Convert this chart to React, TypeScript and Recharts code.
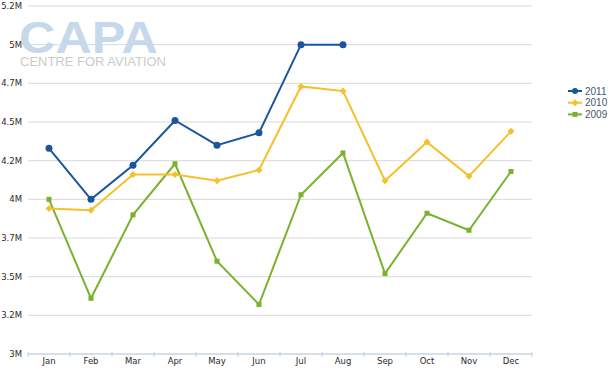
import React from 'react';
import { LineChart, Line, XAxis, YAxis, CartesianGrid } from 'recharts';

const months = ['Jan', 'Feb', 'Mar', 'Apr', 'May', 'Jun', 'Jul', 'Aug', 'Sep', 'Oct', 'Nov', 'Dec'];
// values in millions
const y2011 = [4.33, 4.0, 4.22, 4.51, 4.35, 4.43, 5.0, 5.0, null, null, null, null];
const y2010 = [3.94, 3.93, 4.16, 4.16, 4.12, 4.19, 4.73, 4.7, 4.12, 4.37, 4.15, 4.44];
const y2009 = [4.0, 3.36, 3.9, 4.23, 3.6, 3.32, 4.03, 4.3, 3.52, 3.91, 3.8, 4.18];
const yTicks = [3, 3.25, 3.5, 3.75, 4, 4.25, 4.5, 4.75, 5, 5.25];

const data = months.map((m, i) => ({ month: m, a2011: y2011[i], a2010: y2010[i], a2009: y2009[i] }));

const BLUE = '#1b55a0';
const YELLOW = '#f5c02c';
const GREEN = '#7ab22e';

const fmtY = (v: number) => {
  const t = Math.floor(Math.round(v * 100) / 10) / 10;
  return `${t}M`;
};

const CircleDot = (p: any) => {
  if (p.cy == null || p.value == null) return <g key={p.index} />;
  return <circle key={p.index} cx={p.cx} cy={p.cy} r={3.5} fill={BLUE} />;
};
const DiamondDot = (p: any) => {
  if (p.cy == null) return <g key={p.index} />;
  const { cx, cy } = p;
  return <polygon key={p.index} points={`${cx},${cy - 3.5} ${cx + 3.5},${cy} ${cx},${cy + 3.5} ${cx - 3.5},${cy}`} fill={YELLOW} />;
};
const SquareDot = (p: any) => {
  if (p.cy == null) return <g key={p.index} />;
  return <rect key={p.index} x={p.cx - 2.5} y={p.cy - 2.5} width={5} height={5} fill={GREEN} />;
};

const XTick = (p: any) => {
  const { x, y, payload, index } = p;
  return (
    <g>
      {index === 0 && <line x1={x - 21} y1={y - 2} x2={x - 21} y2={y + 3} stroke="#c0d0e0" />}
      <line x1={x + 21} y1={y - 2} x2={x + 21} y2={y + 3} stroke="#c0d0e0" />
      <text x={x} y={y + 7} textAnchor="middle" dominantBaseline="central" fontSize={8.5} fill="#2a2a2a" fontFamily="DejaVu Sans">
        {payload.value}
      </text>
    </g>
  );
};

const legendItems = [
  { name: '2011', color: BLUE, shape: 'circle' },
  { name: '2010', color: YELLOW, shape: 'diamond' },
  { name: '2009', color: GREEN, shape: 'square' },
];

const LegendBox = () => (
  <svg width={45} height={40} style={{ position: 'absolute', left: 568, top: 85 }}>
    {legendItems.map((it, i) => {
      const cy = 6 + i * 11.7;
      return (
        <g key={it.name}>
          <line x1={0} y1={cy} x2={14} y2={cy} stroke={it.color} strokeWidth={2} />
          {it.shape === 'circle' && <circle cx={7} cy={cy} r={3} fill={it.color} />}
          {it.shape === 'diamond' && <polygon points={`7,${cy - 3.5} 10.5,${cy} 7,${cy + 3.5} 3.5,${cy}`} fill={it.color} />}
          {it.shape === 'square' && <rect x={4.5} y={cy - 2.5} width={5} height={5} fill={it.color} />}
          <text x={17} y={cy} dominantBaseline="central" fontSize={10} fill="#3e576f" fontFamily="Liberation Sans">
            {it.name}
          </text>
        </g>
      );
    })}
  </svg>
);

export default function App() {
  return (
    <div style={{ position: 'absolute', left: 0, top: 0, width: 610, height: 370, background: '#fff' }}>
      <LineChart width={610} height={370} data={data} margin={{ top: 6, right: 78, left: 0, bottom: 0 }}>
        <CartesianGrid vertical={false} stroke="#d9d9d9" />
        <XAxis
          dataKey="month"
          scale="band"
          height={16}
          tickLine={false}
          tickSize={0}
          tickMargin={0}
          axisLine={{ stroke: '#c0d0e0' }}
          tick={<XTick />}
          interval={0}
        />
        <YAxis
          width={28}
          domain={[3, 5.25]}
          ticks={yTicks}
          tickFormatter={fmtY}
          axisLine={false}
          tickLine={false}
          tickSize={4}
          tickMargin={2}
          tick={{ fontSize: 8.5, fill: '#2a2a2a', fontFamily: 'DejaVu Sans' }}
        />
        <Line dataKey="a2009" name="2009" stroke={GREEN} strokeWidth={2} dot={<SquareDot />} isAnimationActive={false} />
        <Line dataKey="a2010" name="2010" stroke={YELLOW} strokeWidth={2} dot={<DiamondDot />} isAnimationActive={false} />
        <Line dataKey="a2011" name="2011" stroke={BLUE} strokeWidth={2} dot={<CircleDot />} isAnimationActive={false} />
      </LineChart>
      <LegendBox />
      <svg width={200} height={80} style={{ position: 'absolute', left: 0, top: 0, pointerEvents: 'none' }}>
        <text x={19} y={53} fontSize={45} fontWeight="bold" fontFamily="Liberation Sans" fill="#c6d9ea" textLength={139} lengthAdjust="spacingAndGlyphs">
          CAPA
        </text>
        <text x={20} y={66} fontSize={13.5} fontFamily="Liberation Sans" fill="#cbcbcb" textLength={146} lengthAdjust="spacingAndGlyphs">
          CENTRE FOR AVIATION
        </text>
      </svg>
    </div>
  );
}
